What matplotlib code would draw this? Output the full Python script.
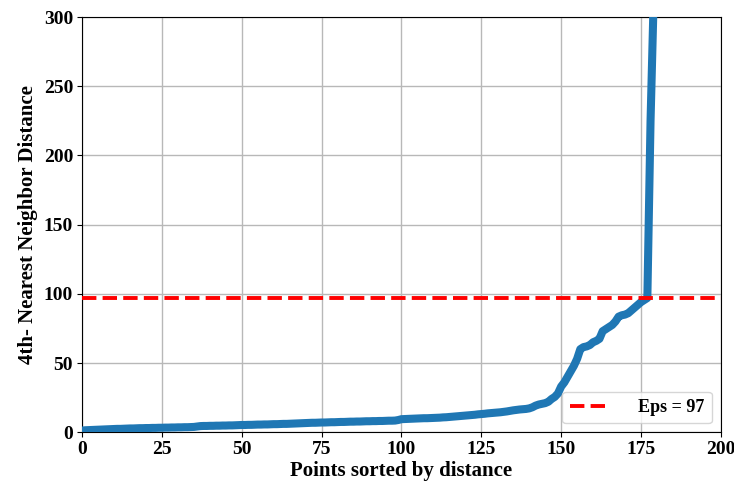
import matplotlib
matplotlib.use("Agg")
import matplotlib.pyplot as plt
import numpy as np

# --- DATA ---
# sorted 4th-nearest-neighbour distances, one value per point (index 0..179)
k_dist = [
    1.2, 1.4, 1.5, 1.6, 1.7, 1.8, 1.9, 2.0, 2.1, 2.2,
    2.3, 2.4, 2.4, 2.5, 2.6, 2.7, 2.7, 2.8, 2.9, 2.9,
    3.0, 3.0, 3.1, 3.1, 3.2, 3.2, 3.3, 3.3, 3.4, 3.4,
    3.5, 3.5, 3.6, 3.6, 3.7, 3.8, 4.1, 4.4, 4.5, 4.5,
    4.6, 4.6, 4.7, 4.7, 4.8, 4.8, 4.9, 4.9, 5.0, 5.1,
    5.2, 5.2, 5.3, 5.3, 5.4, 5.5, 5.5, 5.6, 5.6, 5.7,
    5.8, 5.8, 5.9, 6.0, 6.0, 6.1, 6.2, 6.3, 6.4, 6.5,
    6.6, 6.7, 6.8, 6.8, 6.9, 7.0, 7.0, 7.1, 7.2, 7.2,
    7.3, 7.4, 7.4, 7.5, 7.6, 7.6, 7.7, 7.7, 7.8, 7.9,
    7.9, 8.0, 8.0, 8.1, 8.1, 8.2, 8.3, 8.3, 8.4, 8.8,
    9.4, 9.5, 9.6, 9.7, 9.8, 9.9, 10.0, 10.1, 10.1, 10.2,
    10.3, 10.4, 10.5, 10.7, 10.8, 11.0, 11.2, 11.4, 11.6, 11.8,
    12.0, 12.2, 12.4, 12.6, 12.9, 13.1, 13.3, 13.6, 13.8, 14.0,
    14.2, 14.4, 14.7, 15.0, 15.4, 15.8, 16.1, 16.4, 16.6, 16.8,
    17.2, 18.0, 19.2, 20.0, 20.5, 21.0, 22.0, 24.0, 25.5, 28.0,
    33.0, 36.0, 40.0, 44.0, 48.0, 53.0, 60.0, 61.5, 62.0, 63.0,
    65.0, 66.0, 67.5, 73.0, 74.5, 76.0, 77.5, 80.0, 83.5, 84.5,
    85.0, 86.0, 88.0, 90.0, 92.0, 94.0, 95.5, 97.0, 225.0, 315.0,
]
eps = 97
x_ticks = [0, 25, 50, 75, 100, 125, 150, 175, 200]
y_ticks = [0, 50, 100, 150, 200, 250, 300]

plt.rcParams['font.family'] = ['Liberation Serif', 'DejaVu Serif']
plt.rcParams['font.weight'] = 'bold'

fig = plt.figure(figsize=(7.34, 4.9), dpi=100)
ax = fig.add_axes([0.112, 0.118, 0.870, 0.847])

ax.plot(np.arange(len(k_dist)), k_dist, color='#1f77b4', linewidth=5.8, zorder=3)
ax.axhline(y=eps, color='red', linestyle='--', linewidth=2.8, label=f'Eps = {eps}', zorder=4)

ax.set_xlim(0, 200)
ax.set_ylim(0, 300)
ax.set_xticks(x_ticks)
ax.set_yticks(y_ticks)
ax.tick_params(labelsize=14, pad=3)
for lbl in ax.get_xticklabels() + ax.get_yticklabels():
    lbl.set_fontweight('bold')
ax.grid(True, color='#b8b8b8', linewidth=1.0)
ax.set_axisbelow(True)

ax.set_xlabel('Points sorted by distance', fontsize=15, fontweight='bold', labelpad=2)
ax.set_ylabel('4th- Nearest Neighbor Distance', fontsize=15, fontweight='bold', labelpad=4)

leg = ax.legend(loc='lower right', handletextpad=1.6, handlelength=2.2,
                prop={'weight': 'bold', 'size': 13})

fig.savefig('out.png', dpi=100)
